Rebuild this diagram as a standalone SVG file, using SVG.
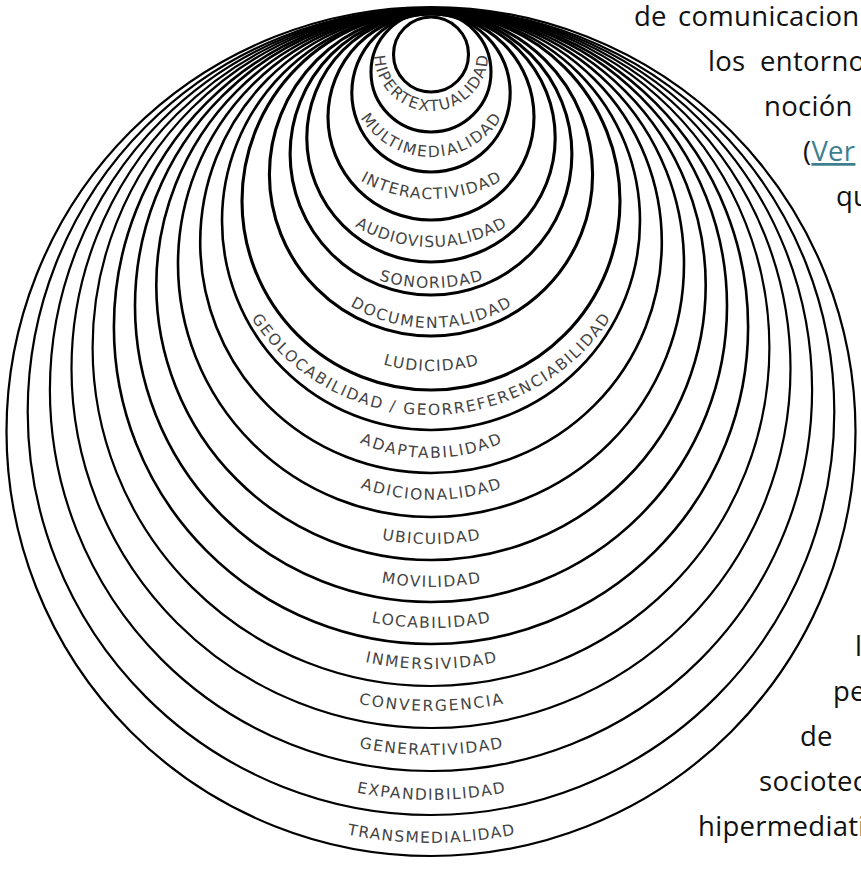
<svg xmlns="http://www.w3.org/2000/svg" width="861" height="869" viewBox="0 0 861 869">
<style>
.ring{fill:none;stroke:#000;stroke-width:2.6}
.thick{stroke-width:3.1}
.thin{stroke-width:2.2}
.lbl{font-family:"DejaVu Sans","Open Sans",sans-serif;font-size:15.5px;fill:#444}
.body{font-family:"Open Sans","Noto Sans",sans-serif;font-size:27.5px;fill:#111;letter-spacing:0.3px}
.link{fill:#3e7f8f;text-decoration:underline}
</style>
<defs>
<path id="p1" d="M374 54 A57 57 0 0 0 488 54"/>
<path id="p2" d="M348 74 A83 83 0 0 0 514 74"/>
<path id="p3" d="M286 54 A145 145 0 0 0 576 54"/>
<path id="p4" d="M281 97 A150 150 0 0 0 581 97"/>
<path id="p5" d="M255 112 A176 176 0 0 0 607 112"/>
<path id="p6" d="M272 169 A159 159 0 0 0 590 169"/>
<path id="p7" d="M251 191 A180 180 0 0 0 611 191"/>
<path id="p8" d="M216 200 A215 215 0 0 0 646 200"/>
<path id="p9" d="M256 283 A175 175 0 0 0 606 283"/>
<path id="p10" d="M216 285 A215 215 0 0 0 646 285"/>
<path id="p11" d="M166 279 A265 265 0 0 0 696 279"/>
<path id="p12" d="M156 312 A275 275 0 0 0 706 312"/>
<path id="p13" d="M126 323 A305 305 0 0 0 736 323"/>
<path id="p14" d="M116 354 A315 315 0 0 0 746 354"/>
<path id="p15" d="M66 346 A365 365 0 0 0 796 346"/>
<path id="p16" d="M66 390 A365 365 0 0 0 796 390"/>
<path id="p17" d="M56 425 A375 375 0 0 0 806 425"/>
<path id="p18" d="M6 418 A425 425 0 0 0 856 418"/>
</defs>
<rect width="861" height="869" fill="#fff"/>
<g id="text-right" class="body">
<text x="634" y="26">de</text><text x="678" y="26">comunicacion</text>
<text x="708" y="71">los</text><text x="760" y="71">entorno</text>
<text x="764" y="116">noción</text>
<text x="803" y="161">(<tspan class="link">Ver</tspan></text>
<text x="836" y="206">qu</text>
<text x="855" y="656">l</text>
<text x="833" y="701">pe</text>
<text x="800" y="746">de</text>
<text x="759" y="791">sociotec</text>
<text x="698" y="836">hipermediati</text>
</g>
<g id="c19"><circle class="ring thin" cx="431" cy="431.5" r="424.5"/><text class="lbl"><textPath href="#p18" startOffset="50%" text-anchor="middle" textLength="169" lengthAdjust="spacing">TRANSMEDIALIDAD</textPath></text></g>
<g id="c18"><circle class="ring thin" cx="431" cy="411.7" r="403.3"/><text class="lbl"><textPath href="#p17" startOffset="50%" text-anchor="middle" textLength="150" lengthAdjust="spacing">EXPANDIBILIDAD</textPath></text></g>
<g id="c17"><circle class="ring thin" cx="431" cy="389.9" r="381.1"/><text class="lbl"><textPath href="#p16" startOffset="50%" text-anchor="middle" textLength="145" lengthAdjust="spacing">GENERATIVIDAD</textPath></text></g>
<g id="c16"><circle class="ring thin" cx="431" cy="368.5" r="359.5"/><text class="lbl"><textPath href="#p15" startOffset="50%" text-anchor="middle" textLength="146" lengthAdjust="spacing">CONVERGENCIA</textPath></text></g>
<g id="c15"><circle class="ring thin" cx="431" cy="347.6" r="338.4"/><text class="lbl"><textPath href="#p14" startOffset="50%" text-anchor="middle" textLength="133" lengthAdjust="spacing">INMERSIVIDAD</textPath></text></g>
<g id="c14"><circle class="ring" cx="431" cy="326.9" r="317.1"/><text class="lbl"><textPath href="#p13" startOffset="50%" text-anchor="middle" textLength="120" lengthAdjust="spacing">LOCABILIDAD</textPath></text></g>
<g id="c13"><circle class="ring" cx="431" cy="306" r="296"/><text class="lbl"><textPath href="#p12" startOffset="50%" text-anchor="middle" textLength="100" lengthAdjust="spacing">MOVILIDAD</textPath></text></g>
<g id="c12"><circle class="ring" cx="431" cy="285.3" r="274.7"/><text class="lbl"><textPath href="#p11" startOffset="50%" text-anchor="middle" textLength="99" lengthAdjust="spacing">UBICUIDAD</textPath></text></g>
<g id="c11"><circle class="ring" cx="431" cy="264" r="253"/><text class="lbl"><textPath href="#p10" startOffset="50%" text-anchor="middle" textLength="144" lengthAdjust="spacing">ADICIONALIDAD</textPath></text></g>
<g id="c10"><circle class="ring" cx="431" cy="242.2" r="230.8"/><text class="lbl"><textPath href="#p9" startOffset="50%" text-anchor="middle" textLength="147" lengthAdjust="spacing">ADAPTABILIDAD</textPath></text></g>
<g id="c9"><circle class="ring" cx="431" cy="221" r="209"/><text class="lbl"><textPath href="#p8" startOffset="50%" text-anchor="middle" textLength="425" lengthAdjust="spacing">GEOLOCABILIDAD / GEORREFERENCIABILIDAD</textPath></text></g>
<g id="c8"><circle class="ring thick" cx="431" cy="201" r="189"/><text class="lbl"><textPath href="#p7" startOffset="50%" text-anchor="middle" textLength="97" lengthAdjust="spacing">LUDICIDAD</textPath></text></g>
<g id="c7"><circle class="ring thick" cx="431" cy="174.4" r="161.6"/><text class="lbl"><textPath href="#p6" startOffset="50%" text-anchor="middle" textLength="170" lengthAdjust="spacing">DOCUMENTALIDAD</textPath></text></g>
<g id="c6"><circle class="ring thick" cx="431" cy="154.1" r="140.9"/><text class="lbl"><textPath href="#p5" startOffset="50%" text-anchor="middle" textLength="106" lengthAdjust="spacing">SONORIDAD</textPath></text></g>
<g id="c5"><circle class="ring thick" cx="431" cy="137.8" r="124.2"/><text class="lbl"><textPath href="#p4" startOffset="50%" text-anchor="middle" textLength="160" lengthAdjust="spacing">AUDIOVISUALIDAD</textPath></text></g>
<g id="c4"><circle class="ring thick" cx="431" cy="117" r="103"/><text class="lbl"><textPath href="#p3" startOffset="50%" text-anchor="middle" textLength="148" lengthAdjust="spacing">INTERACTIVIDAD</textPath></text></g>
<g id="c3"><circle class="ring thick" cx="431" cy="92.8" r="79.2"/><text class="lbl"><textPath href="#p2" startOffset="50%" text-anchor="middle" textLength="168" lengthAdjust="spacing">MULTIMEDIALIDAD</textPath></text></g>
<g id="c2"><circle class="ring thick" cx="431" cy="72" r="60"/><text class="lbl"><textPath href="#p1" startOffset="50%" text-anchor="middle" textLength="175" lengthAdjust="spacing">HIPERTEXTUALIDAD</textPath></text></g>
<g id="c1"><circle class="ring thick" cx="431" cy="54.5" r="37.5"/></g>
</svg>
